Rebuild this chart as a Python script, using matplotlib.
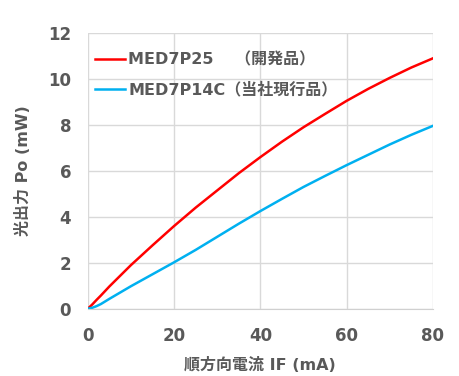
import matplotlib
matplotlib.use("Agg")
import matplotlib.pyplot as plt

plt.rcParams['font.family'] = ['DejaVu Sans', 'Noto Sans CJK JP']

current_ma = [0, 1, 2, 3, 5, 10, 15, 20, 25, 30, 35, 40, 45, 50, 55, 60, 65, 70, 75, 80]
po_med7p25 = [0, 0.18, 0.38, 0.57, 0.97, 1.9, 2.76, 3.6, 4.4, 5.15, 5.9, 6.6, 7.27, 7.9, 8.48, 9.05, 9.57, 10.05, 10.5, 10.9]
po_med7p14c = [0, 0.04, 0.11, 0.2, 0.43, 0.98, 1.5, 2.02, 2.56, 3.13, 3.7, 4.25, 4.78, 5.3, 5.78, 6.25, 6.7, 7.15, 7.57, 7.96]

label_a = "MED7P25 \u3000（開発品）"
label_b = "MED7P14C（当社現行品）"
x_ticks = [0, 20, 40, 60, 80]
y_ticks = [0, 2, 4, 6, 8, 10, 12]

txt = '#595959'
fig = plt.figure(figsize=(4.6, 3.76), dpi=100)
ax = fig.add_axes([0.191, 0.179, 0.750, 0.733])

ax.plot(current_ma, po_med7p25, color='#ff0000', lw=1.8, label=label_a)
ax.plot(current_ma, po_med7p14c, color='#00b0f0', lw=1.8, label=label_b)

ax.set_xlim(0, 80)
ax.set_ylim(0, 12)
ax.set_xticks(x_ticks)
ax.set_yticks(y_ticks)
ax.grid(True, color='#d9d9d9', lw=1)
ax.set_axisbelow(True)
for s in ['top', 'right', 'left']:
    ax.spines[s].set_visible(False)
ax.spines['bottom'].set_color('#d0d0d0')
ax.tick_params(length=0, labelsize=12, labelcolor=txt)
ax.tick_params(axis='x', pad=13)
ax.tick_params(axis='y', pad=12)
for lab in ax.get_xticklabels() + ax.get_yticklabels():
    lab.set_fontweight('bold')

ax.set_xlabel("順方向電流 IF (mA)", fontsize=11.5, fontweight='bold', color=txt, labelpad=9)
ax.set_ylabel("光出力 Po (mW)", fontsize=11.5, fontweight='bold', color=txt, labelpad=12)

leg = ax.legend(loc='upper left', bbox_to_anchor=(0.02, 0.93), frameon=False,
                borderpad=0, borderaxespad=0,
                handlelength=1.9, handletextpad=0.2, labelspacing=0.875,
                prop={'size': 11.5, 'weight': 'bold'})
for t in leg.get_texts():
    t.set_color(txt)

fig.savefig("out.png", dpi=100)
